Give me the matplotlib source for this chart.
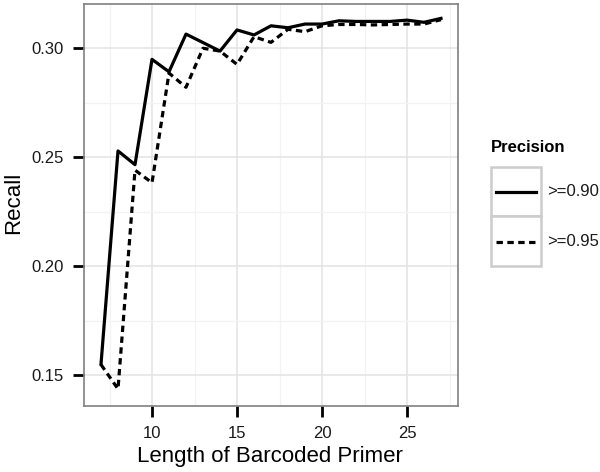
import matplotlib
matplotlib.use("Agg")
import matplotlib.pyplot as plt
from matplotlib.patches import Rectangle
from matplotlib.lines import Line2D
from matplotlib.ticker import MultipleLocator

plt.rcParams['font.family'] = ['Liberation Sans', 'DejaVu Sans']

length = [7, 8, 9, 10, 11, 12, 13, 14, 15, 16, 17, 18, 19, 20, 21, 22, 23, 24, 25, 26, 27]
recall_090 = [0.155, 0.2528, 0.2465, 0.2948, 0.2891, 0.3064, 0.3025, 0.2986, 0.3083, 0.3060,
              0.3102, 0.3093, 0.3110, 0.3110, 0.3125, 0.3122, 0.3122, 0.3122, 0.3128, 0.3118, 0.3136]
recall_095 = [0.1548, 0.1436, 0.2440, 0.2382, 0.2885, 0.2820, 0.2999, 0.2986, 0.2925, 0.3052,
              0.3026, 0.3086, 0.3075, 0.3102, 0.3108, 0.3108, 0.3106, 0.3108, 0.3110, 0.3110, 0.3130]
labels = [">=0.90", ">=0.95"]
legend_title = "Precision"
xlabel = "Length of Barcoded Primer"
ylabel = "Recall"

W, H = 600, 472
fig = plt.figure(figsize=(W / 100, H / 100), dpi=100)
ax = fig.add_axes([84 / W, 1 - 406 / H, (458 - 84) / W, (406 - 4) / H])

lw = 2.3
ax.plot(length, recall_090, color='black', lw=lw, zorder=3)
ax.plot(length, recall_095, color='black', lw=lw, dashes=(2.0, 1.4), zorder=3)

ax.set_xlim(6, 28)
ax.set_ylim(0.1358, 0.3202)
ax.xaxis.set_major_locator(MultipleLocator(5))
ax.xaxis.set_minor_locator(MultipleLocator(2.5))
ax.yaxis.set_major_locator(MultipleLocator(0.05))
ax.yaxis.set_minor_locator(MultipleLocator(0.025))
ax.set_xticks([10, 15, 20, 25])
ax.yaxis.set_major_formatter(matplotlib.ticker.FormatStrFormatter('%.2f'))

ax.grid(which='major', color='#E3E3E3', lw=1.1, zorder=0)
ax.grid(which='minor', color='#F3F3F3', lw=0.9, zorder=0)
ax.set_axisbelow(True)
ax.tick_params(which='major', direction='out', length=8, width=2, color='black',
               labelsize=12, labelcolor='#1a1a1a', pad=6.5)
ax.tick_params(which='minor', length=0)
for s in ax.spines.values():
    s.set_color('#808080')
    s.set_linewidth(1.2)

ax.set_xlabel(xlabel, fontsize=16)
ax.xaxis.set_label_coords(0.497, -0.100)
ax.xaxis.label.set_va('top')
ax.set_ylabel(ylabel, fontsize=16)
ax.yaxis.set_label_coords(-0.160, 0.505)

# legend
def fx(px):
    return px / W

def fy(py):
    return 1 - py / H

fig.text(fx(491), fy(148), legend_title, fontsize=12, fontweight='bold', va='center', ha='left')
for i, (lab, style) in enumerate(zip(labels, ['solid', 'dashed'])):
    top = 167 + 49.5 * i
    fig.patches.append(Rectangle((fx(491), fy(top + 49.5)), fx(541) - fx(491), fy(top) - fy(top + 49.5),
                                 transform=fig.transFigure, facecolor='white', edgecolor='#CCCCCC', lw=1.8))
    yc = top + 25
    ln = Line2D([fx(496), fx(536)], [fy(yc), fy(yc)], transform=fig.transFigure, color='black', lw=lw)
    if style == 'dashed':
        ln.set_dashes((2.0, 1.4))
    fig.lines.append(ln)
    fig.text(fx(547), fy(yc), lab, fontsize=12, va='center', ha='left', color='#1a1a1a')

fig.savefig('out.png', dpi=100)
